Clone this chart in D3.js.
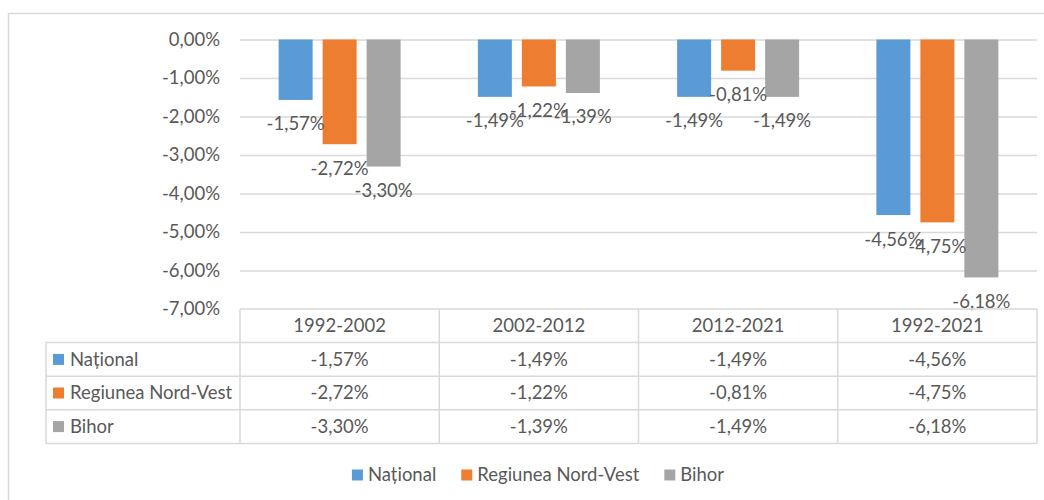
<!DOCTYPE html>
<html>
<head>
<meta charset="utf-8">
<script src="https://cdn.jsdelivr.net/npm/d3@7"></script>
<style>
  body { margin: 0; background: #fff; }
  svg { display: block; }
  text { font-family: Lato, "Open Sans", sans-serif; fill: #595959; }
</style>
</head>
<body>
<div class="chart"></div>
<script>
// data
const categories = ["1992-2002", "2002-2012", "2012-2021", "1992-2021"];
const seriesNames = ["Național", "Regiunea Nord-Vest", "Bihor"];
const national = [-1.57, -1.49, -1.49, -4.56];
const nordVest = [-2.72, -1.22, -0.81, -4.75];
const bihor = [-3.30, -1.39, -1.49, -6.18];
const yTicks = [0, -1, -2, -3, -4, -5, -6, -7];

const colors = ["#5B9BD5", "#ED7D31", "#A5A5A5"];
const allSeries = [national, nordVest, bihor];

const W = 1044, H = 500;
const fontSize = 18.5;
const gridColor = "#D9D9D9";

const ro = d3.formatLocale({decimal: ",", thousands: ".", grouping: [3], currency: ["", ""], minus: "-"});
const pct = v => ro.format(".2f")(v) + "%";

const svg = d3.select(".chart").append("svg")
    .attr("width", W)
    .attr("height", H);

// outer frame (only top and left are visible)
svg.append("path")
    .attr("d", "M8.5," + H + "V13.5H" + W)
    .attr("fill", "none")
    .attr("stroke", gridColor)
    .attr("stroke-width", 1.5);

const x = d3.scaleBand()
    .domain(categories)
    .range([240, 1037]);

// 34px bars with 10px gaps inside each group
const x1 = d3.scaleBand()
    .domain(seriesNames)
    .range([-66, 66])
    .paddingInner(10 / 44)
    .paddingOuter(5 / 44);

const y = d3.scaleLinear()
    .domain([0, -7])
    .range([39.5, 309]);

// y axis with gridlines
const yAxis = svg.append("g")
    .attr("transform", "translate(240,0)")
    .call(d3.axisLeft(y)
        .tickValues(yTicks)
        .tickSize(-(1037 - 240))
        .tickPadding(20)
        .tickFormat(pct));

yAxis.select(".domain").remove();
yAxis.selectAll(".tick line")
    .attr("stroke", gridColor)
    .attr("stroke-width", 1.5)
    .attr("display", d => d === -7 ? "none" : null);
yAxis.selectAll(".tick text")
    .attr("font-size", fontSize)
    .attr("fill", "#595959")
    .attr("font-family", "Lato, 'Open Sans', sans-serif");

// bars
const bars = [];
categories.forEach((c, i) => {
    seriesNames.forEach((s, j) => {
        bars.push({cat: c, name: s, value: allSeries[j][i], color: colors[j]});
    });
});

svg.append("g")
    .selectAll("rect")
    .data(bars)
    .join("rect")
    .attr("x", d => x(d.cat) + x.bandwidth() / 2 + x1(d.name))
    .attr("y", y(0))
    .attr("width", x1.bandwidth())
    .attr("height", d => y(d.value) - y(0))
    .attr("fill", d => d.color);

// data labels (outside end, below each bar)
svg.append("g")
    .selectAll("text")
    .data(bars)
    .join("text")
    .attr("x", d => x(d.cat) + x.bandwidth() / 2 + x1(d.name) + x1.bandwidth() / 2)
    .attr("y", d => y(d.value) + 24)
    .attr("dy", "0.35em")
    .attr("text-anchor", "middle")
    .attr("font-size", fontSize)
    .text(d => pct(d.value));

// data table
const rowH = 33.6;
const tableTop = y(-7);
const tableLeft = 46;
const table = svg.append("g");

const cellLine = (x0, y0, x2, y2) => table.append("line")
    .attr("x1", x0).attr("y1", y0).attr("x2", x2).attr("y2", y2)
    .attr("stroke", gridColor).attr("stroke-width", 1.5);

// horizontal lines
cellLine(240, tableTop, 1037, tableTop);
for (let r = 1; r <= seriesNames.length + 1; r++) {
    cellLine(tableLeft, tableTop + r * rowH, 1037, tableTop + r * rowH);
}
// vertical lines
cellLine(tableLeft, tableTop + rowH, tableLeft, tableTop + 4 * rowH);
categories.forEach(c => cellLine(x(c), tableTop, x(c), tableTop + 4 * rowH));
cellLine(1037, tableTop, 1037, tableTop + 4 * rowH);

table.selectAll(".head")
    .data(categories)
    .join("text")
    .attr("x", d => x(d) + x.bandwidth() / 2)
    .attr("y", tableTop + rowH / 2)
    .attr("dy", "0.35em")
    .attr("text-anchor", "middle")
    .attr("font-size", fontSize)
    .text(d => d);

seriesNames.forEach((s, j) => {
    const cy = tableTop + (j + 1.5) * rowH;
    table.append("rect")
        .attr("x", 53)
        .attr("y", cy - 5.5)
        .attr("width", 11)
        .attr("height", 11)
        .attr("fill", colors[j]);
    table.append("text")
        .attr("x", 70)
        .attr("y", cy)
        .attr("dy", "0.35em")
        .attr("font-size", fontSize)
        .text(s);
    table.selectAll(".v" + j)
        .data(allSeries[j])
        .join("text")
        .attr("x", (d, i) => x(categories[i]) + x.bandwidth() / 2)
        .attr("y", cy)
        .attr("dy", "0.35em")
        .attr("text-anchor", "middle")
        .attr("font-size", fontSize)
        .text(d => pct(d));
});

// legend
const legend = svg.append("g");
let lx = 0;
seriesNames.forEach((s, j) => {
    const item = legend.append("g").attr("transform", "translate(" + lx + ",0)");
    item.append("rect")
        .attr("x", 0).attr("y", -5.5)
        .attr("width", 11).attr("height", 11)
        .attr("fill", colors[j]);
    const t = item.append("text")
        .attr("x", 16)
        .attr("dy", "0.35em")
        .attr("font-size", fontSize)
        .text(s);
    lx += 16 + t.node().getComputedTextLength() + 25;
});
const legendW = lx - 25;
legend.attr("transform", "translate(" + (538 - legendW / 2) + ",475)");
</script>
</body>
</html>
